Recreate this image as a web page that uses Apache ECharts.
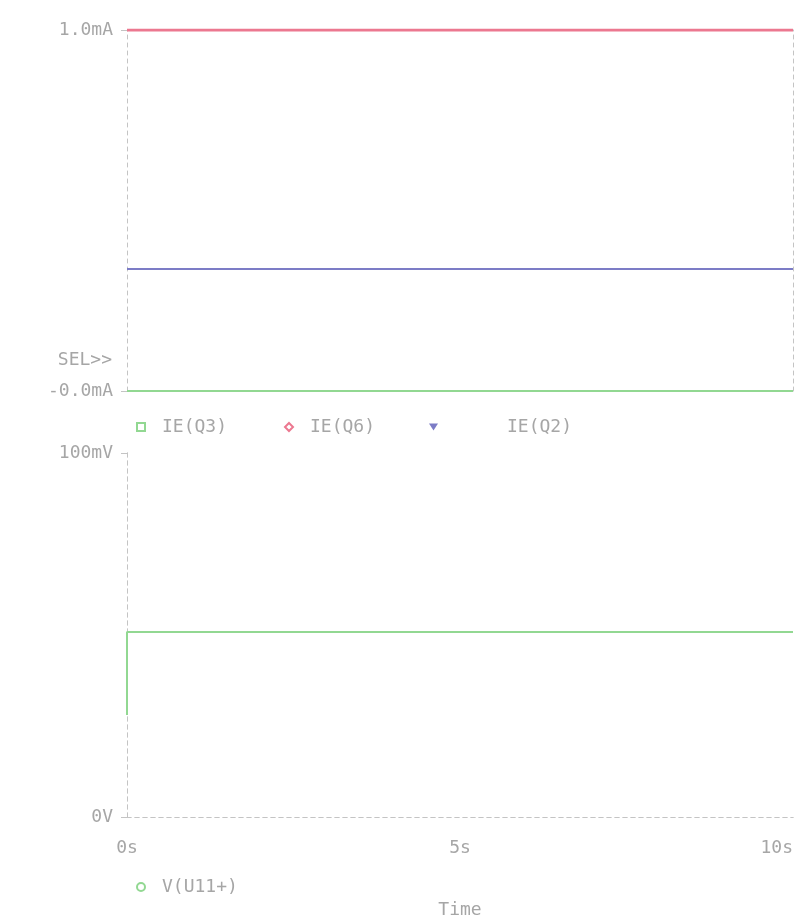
<!DOCTYPE html>
<html><head><meta charset="utf-8">
<script src="https://cdn.jsdelivr.net/npm/echarts@6/dist/echarts.min.js"></script>
<style>html,body{margin:0;padding:0;background:#fff}#c{width:797px;height:922px}</style>
</head><body><div id="c"></div>
<script>
// Time axis (s)
const timeTop = [0, 10];
const ieQ3 = [0, 0];          // mA
const ieQ6 = [1.0, 1.0];      // mA
const ieQ2 = [0.338, 0.338];  // mA
const timeBottom = [0, 0, 10];
const vU11 = [28, 50.8, 50.8]; // mV
const topTickLabels = {0: '-0.0mA', 1: '1.0mA'};
const bottomTickLabels = {0: '0V', 100: '100mV'};
const xTickLabels = {0: '0s', 5: '5s', 10: '10s'};

const FONT = 'DejaVu Sans Mono';
const FS = 18;
const TXT = '#a6a6a6';
const AX = '#c4c4c4';
const RED = '#ec7890', BLUE = '#7c7cc6', GREEN = '#92d892';

const chart = echarts.init(document.getElementById('c'));
const dashLine = {show: true, lineStyle: {color: AX, type: [4, 4], width: 1}};
const lbl = (map) => ({show: true, color: TXT, fontFamily: FONT, fontSize: FS, margin: 14, formatter: v => map[v] !== undefined ? map[v] : ''});
const pair = (xs, ys) => xs.map((x, i) => [x, ys[i]]);
const legTxt = (pad) => ({color: TXT, fontFamily: FONT, fontSize: FS, padding: [0, 0, 0, pad]});

chart.setOption({
  backgroundColor: '#fff',
  animation: false,
  grid: [
    {left: 127, top: 30, width: 666, height: 361},
    {left: 127, top: 453, width: 666, height: 364}
  ],
  xAxis: [
    {gridIndex: 0, type: 'value', min: 0, max: 10, interval: 5, axisLine: {show: false}, axisTick: {show: false}, axisLabel: {show: false}, splitLine: {show: false}},
    {gridIndex: 1, type: 'value', min: 0, max: 10, interval: 5, position: 'bottom', axisLine: dashLine, axisTick: {show: false},
      axisLabel: Object.assign(lbl(xTickLabels), {margin: 22, alignMaxLabel: 'right'}), splitLine: {show: false},
      name: 'Time', nameLocation: 'middle', nameGap: 84, nameTextStyle: {color: TXT, fontFamily: FONT, fontSize: FS}},
    {gridIndex: 1, type: 'value', min: 0, max: 10, position: 'top', axisLine: dashLine, axisTick: {show: false}, axisLabel: {show: false}, splitLine: {show: false}}
  ],
  yAxis: [
    {gridIndex: 0, type: 'value', min: 0, max: 1, interval: 1, position: 'left', axisLine: dashLine, axisTick: {show: true, length: 6, lineStyle: {color: AX}}, axisLabel: lbl(topTickLabels), splitLine: {show: false}},
    {gridIndex: 0, type: 'value', min: 0, max: 1, position: 'right', axisLine: dashLine, axisTick: {show: false}, axisLabel: {show: false}, splitLine: {show: false}},
    {gridIndex: 1, type: 'value', min: 0, max: 100, interval: 100, position: 'left', axisLine: dashLine, axisTick: {show: true, length: 6, lineStyle: {color: AX}}, axisLabel: lbl(bottomTickLabels), splitLine: {show: false}},
    {gridIndex: 1, type: 'value', min: 0, max: 100, position: 'right', axisLine: dashLine, axisTick: {show: false}, axisLabel: {show: false}, splitLine: {show: false}}
  ],
  legend: [
    {left: 131, top: 413, data: [{name: 'IE(Q3)', icon: 'emptyRect'}], itemWidth: 8, itemHeight: 8, textStyle: legTxt(12)},
    {left: 279, top: 413, data: [{name: 'IE(Q6)', icon: 'emptyDiamond'}], itemWidth: 8, itemHeight: 8, textStyle: legTxt(12)},
    {left: 424, top: 413, data: [{name: 'IE(Q2)', icon: 'path://M0,0 L10,0 L5,8 Z'}], itemWidth: 9, itemHeight: 8, textStyle: legTxt(64)},
    {left: 131, top: 873, data: [{name: 'V(U11+)', icon: 'emptyCircle'}], itemWidth: 8, itemHeight: 8, textStyle: legTxt(12)}
  ],
  graphic: [
    {type: 'text', right: 797 - 112, top: 351, style: {text: 'SEL>>', fill: TXT, font: FS + 'px "DejaVu Sans Mono"'}}
  ],
  series: [
    {name: 'IE(Q3)', type: 'line', xAxisIndex: 0, yAxisIndex: 0, data: pair(timeTop, ieQ3), symbol: 'none', lineStyle: {color: GREEN, width: 2}, itemStyle: {color: GREEN}},
    {name: 'IE(Q6)', type: 'line', xAxisIndex: 0, yAxisIndex: 0, data: pair(timeTop, ieQ6), symbol: 'none', lineStyle: {color: RED, width: 3}, itemStyle: {color: RED}},
    {name: 'IE(Q2)', type: 'line', xAxisIndex: 0, yAxisIndex: 0, data: pair(timeTop, ieQ2), symbol: 'none', lineStyle: {color: BLUE, width: 2}, itemStyle: {color: BLUE}},
    {name: 'V(U11+)', type: 'line', xAxisIndex: 1, yAxisIndex: 2, data: pair(timeBottom, vU11), symbol: 'none', lineStyle: {color: GREEN, width: 2}, itemStyle: {color: GREEN}}
  ]
});
</script></body></html>
